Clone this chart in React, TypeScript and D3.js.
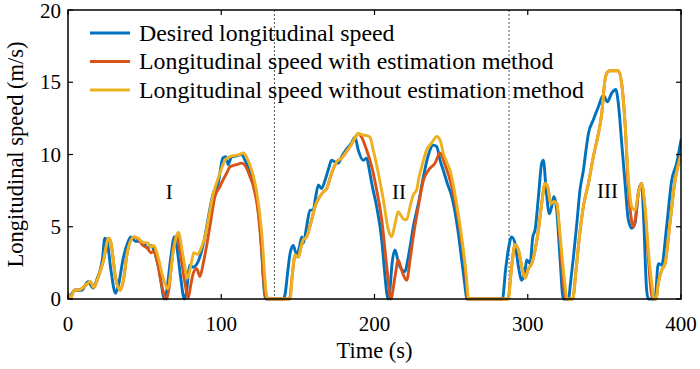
import React, { useEffect, useRef } from 'react';
import * as d3 from 'd3';

type Pt = [number, number];

// time (s), speed (m/s)
const desiredSpeed: Pt[] = [
  [0, 0.2], [2, 0.3], [4.5, 0.62], [9, 0.6], [11, 0.9], [13, 1.2], [16.5, 0.76], [19, 1.4], [21, 2.0],
  [22.5, 2.8], [24, 4.2], [25.5, 4.0], [28, 2.0], [31, 0.4], [33, 1.0], [36, 2.8], [39, 3.9], [41, 4.3],
  [44, 4.0], [47, 4.0], [50, 3.8], [52, 3.5], [54, 3.7], [56, 3.4], [59.5, 2.0], [63, 0], [64, 0.3],
  [67, 2.8], [69.4, 4.3], [71, 3.6], [73.5, 1.5], [75.9, 0], [77, 0.3], [79.6, 2.35], [81.6, 2.2],
  [84, 2.4], [86, 2.9], [88.5, 3.9], [90.5, 5.0], [92.5, 6.2], [94.7, 7.3], [98, 8.0], [101, 9.75],
  [103, 9.85], [104.5, 9.3], [106.8, 9.85], [110, 9.9], [113, 10.0], [116, 9.5], [118.8, 8.7], [122, 7.8],
  [125.3, 5.0], [128.5, 0.2], [129.5, 0], [140.5, 0], [141.6, 0.3], [143.5, 2.0], [145, 3.2], [147, 3.7],
  [149.2, 3.05], [151, 3.6], [152.5, 4.3], [153.5, 3.85], [155.7, 5.0], [157.9, 6.15], [160, 6.15],
  [161.5, 7.0], [163.4, 7.9], [165.5, 7.65], [167.7, 8.2], [170, 9.0], [172, 9.6], [174, 9.5], [176.4, 9.4],
  [178.6, 9.85], [182, 10.4], [185, 10.8], [187.3, 11.2], [189.4, 10.3], [192.7, 9.6], [194.9, 9.75],
  [196.5, 9.0], [198.2, 8.0], [201.4, 6.4], [204.7, 4.1], [206.5, 2.0], [208, 0.4], [209, 0], [210, 0.6],
  [211.5, 2.5], [213.4, 3.4], [215, 2.8], [216.6, 2.25], [219.9, 1.9], [221.5, 2.6], [223.2, 3.6],
  [225.3, 5.0], [228.6, 6.6], [231.9, 8.45], [235.1, 9.95], [238.4, 10.65], [240.6, 10.55], [242.8, 9.6],
  [244.9, 8.9], [247.5, 8.0], [250.4, 7.1], [254.7, 4.55], [257, 2.6], [259.1, 0.85], [260.2, 0],
  [283.5, 0], [285.5, 2.0], [287.3, 3.4], [289.5, 4.3], [291.7, 3.85], [293.9, 2.25], [296.1, 1.3],
  [298.3, 2.0], [299.3, 2.7], [301.5, 2.45], [303.3, 4.3], [304.8, 4.8], [307, 7.1], [309.1, 9.4],
  [310.2, 9.6], [312, 7.55], [314.1, 5.9], [315.6, 6.4], [317.1, 7.1], [318.9, 6.15], [321, 2.9],
  [323.2, 0], [326.5, 0], [328, 1.2], [329.8, 2.9], [332, 5.2], [334.1, 7.55], [336.3, 8.9], [338, 10.3],
  [339.6, 11.45], [342.8, 12.4], [346.1, 13.3], [349.3, 14.1], [351.9, 13.65], [354.8, 14.25],
  [357.4, 14.5], [359.1, 13.55], [361.3, 10.8], [363.5, 8.0], [365.6, 5.5], [367.8, 4.9], [370, 5.25],
  [372.1, 7.3], [374.3, 8.0], [375.4, 6.15], [377.6, 0.6], [378.7, 0], [383, 0], [385.2, 2.45],
  [387.4, 2.35], [390.6, 5.0], [393.9, 8.2], [397.2, 9.4], [400, 11.0],
];

const withEstimation: Pt[] = [
  [0, 0.3], [1.5, 0.05], [4, 0.6], [8, 0.65], [12, 1.0], [14.5, 1.2], [17, 0.8], [19, 1.3], [23, 2.6],
  [26.5, 4.2], [28, 3.9], [31, 1.5], [34, 0.6], [36, 1.2], [39, 3.4], [43, 4.3], [46, 4.1], [49, 3.7],
  [52, 3.5], [54, 3.2], [56, 3.3], [58, 2.7], [61, 1.0], [64.4, 0], [66, 0.8], [68.5, 3.3], [71, 4.4],
  [73, 3.4], [76, 1.3], [78.5, 0.1], [80, 0.9], [81.8, 1.8], [84, 2.1], [86.1, 1.55], [88.3, 2.5],
  [90.5, 3.7], [92.7, 5.1], [95.9, 7.1], [99.2, 7.8], [101, 8.2], [103.5, 8.7], [105.7, 9.15], [110, 9.3],
  [113.3, 9.4], [116.6, 9.05], [119, 8.4], [121, 7.8], [124.2, 5.9], [126.5, 3.2], [128.5, 0.4], [130, 0],
  [144.5, 0], [146.5, 1.8], [148.1, 3.0], [150.3, 2.9], [152, 3.6], [153.5, 4.1], [155.7, 4.3], [159, 5.5],
  [161.5, 6.5], [164.4, 7.1], [166.5, 7.4], [168.8, 7.65], [172, 8.7], [175.3, 9.5], [178.6, 9.75],
  [181, 10.1], [184, 10.55], [187, 11.1], [189.4, 11.45], [191.6, 11.2], [194.9, 10.3], [198.2, 9.15],
  [201.4, 7.55], [204.7, 5.5], [208, 2.25], [210.6, 0], [213.4, 1.55], [215.5, 2.7], [217.7, 2.0],
  [221, 1.3], [223.2, 2.7], [225.3, 4.3], [228.6, 6.4], [231.9, 8.2], [235.1, 8.9], [239.5, 9.4],
  [242.8, 10.1], [246, 9.3], [250.4, 7.8], [254.7, 5.5], [259, 2.25], [261.2, 0], [287, 0],
  [289.5, 2.25], [291.7, 3.75], [293.9, 3.4], [296.1, 2.25], [298.3, 1.45], [300.4, 2.1], [302.6, 2.45],
  [304.8, 3.4], [307, 4.8], [309.1, 6.6], [311.3, 8.0], [312.9, 7.8], [315, 6.6], [317.1, 6.75],
  [318.9, 6.6], [321, 4.2], [323.3, 1.0], [325, 0], [329.3, 0], [331.5, 2.0], [333.7, 4.3], [336.3, 6.4],
  [339.6, 8.0], [342.8, 9.85], [346.1, 11.45], [348.3, 12.85], [350.4, 15.15], [352, 15.7], [353.7, 15.8],
  [359.1, 15.8], [361.3, 14.9], [363.5, 12.15], [365.6, 7.8], [367.8, 5.4], [369, 5.0], [371, 6.2],
  [372.1, 7.3], [374.3, 8.0], [376.5, 6.2], [378.7, 2.8], [380.5, 0.5], [381.5, 0], [383.7, 0],
  [385.2, 1.1], [387.4, 2.0], [389.6, 2.45], [392.8, 5.25], [396.1, 8.2], [400, 10.0],
];

const withoutEstimation: Pt[] = [
  [0, 0.4], [1.5, 0.05], [4, 0.6], [8, 0.65], [12, 1.0], [14.5, 1.2], [17, 0.8], [19, 1.3], [23, 2.6],
  [26.5, 4.2], [28, 3.9], [31, 1.5], [34, 0.6], [36, 1.2], [39, 3.4], [43, 4.3], [46, 4.2], [49, 3.9],
  [52, 3.9], [54, 3.6], [56, 3.7], [58, 3.2], [62, 1.5], [65, 0.7], [69, 3.5], [72, 4.6], [75, 3.0],
  [78, 1.45], [80.5, 2.5], [82, 3.2], [84.5, 3.1], [87.2, 3.6], [89.4, 4.3], [91.6, 5.5], [94.8, 7.3],
  [98, 8.35], [102.5, 9.6], [105.7, 9.85], [112, 10.0], [114.4, 10.1], [117, 9.7], [119.9, 8.9],
  [123, 7.5], [126.4, 4.6], [129.7, 0.2], [131, 0], [144.9, 0], [146.5, 1.8], [148.1, 3.05],
  [150.3, 2.9], [152, 3.6], [153.5, 4.1], [155.7, 4.3], [159, 5.5], [161.5, 6.5], [164.4, 7.1],
  [166.5, 7.4], [168.8, 7.65], [172, 8.7], [175.3, 9.5], [178.6, 9.75], [181, 10.1], [184, 10.55],
  [187, 11.1], [189.4, 11.45], [192.7, 11.35], [195, 11.3], [197, 11.2], [199.2, 10.3], [202.5, 8.7],
  [205.8, 6.85], [209, 4.8], [211.2, 4.3], [213.4, 5.2], [215.5, 6.05], [217.7, 5.7], [219.5, 5.5],
  [221, 5.5], [223.2, 6.4], [225.3, 7.2], [227.5, 7.55], [229, 8.4], [230.8, 9.15], [234, 10.3],
  [237.3, 10.8], [240.6, 11.25], [242.8, 11.0], [244.9, 10.1], [247, 9.5], [249.3, 8.9], [253.6, 6.6],
  [258, 3.4], [260, 1.5], [261.2, 0.05], [262, 0], [287.3, 0], [289.5, 2.25], [291.7, 3.75],
  [293.9, 3.4], [296.1, 2.25], [298.3, 1.45], [300.4, 2.1], [302.6, 2.45], [304.8, 3.4], [307, 4.8],
  [309.1, 6.6], [311.3, 8.0], [312.9, 7.8], [315, 6.6], [317.1, 6.75], [318.9, 6.6], [321, 4.55],
  [323.7, 1.55], [325.8, 0], [329.3, 0], [331.5, 2.0], [333.7, 4.3], [336.3, 6.4], [339.6, 8.0],
  [342.8, 9.85], [346.1, 11.45], [348.3, 12.85], [350.4, 15.15], [352, 15.7], [353.7, 15.8],
  [359.1, 15.8], [361.3, 14.9], [363.5, 12.15], [365.6, 8.45], [367.8, 6.4], [370, 6.15], [372.1, 7.3],
  [374.3, 8.0], [376.5, 6.4], [378.7, 3.4], [380.9, 1.1], [382.4, 0], [383.7, 0], [385.2, 1.1],
  [387.4, 2.0], [389.6, 2.45], [392.8, 5.25], [396.1, 8.2], [400, 10.0],
];

const SERIES = [
  { name: 'Desired longitudinal speed', color: '#0072BD', data: desiredSpeed },
  { name: 'Longitudinal speed with estimation method', color: '#D95319', data: withEstimation },
  { name: 'Longitudinal speed without estimation method', color: '#EDB120', data: withoutEstimation },
];

const TIME_TICKS = [0, 100, 200, 300, 400];
const SPEED_TICKS = [0, 5, 10, 15, 20];
const PHASE_BOUNDS = [134.7, 287.8];
const PHASE_LABELS: { label: string; t: number; v: number }[] = [
  { label: 'I', t: 66, v: 6.9 },
  { label: 'II', t: 216, v: 6.9 },
  { label: 'III', t: 352, v: 7.0 },
];

const W = 700;
const H = 369;
const PLOT = { left: 68, right: 681, top: 10, bottom: 299 };
const FONT = '"Liberation Serif", "Times New Roman", serif';

const App: React.FC = () => {
  const svgRef = useRef<SVGSVGElement>(null);

  useEffect(() => {
    if (!svgRef.current) return;
    const svg = d3.select(svgRef.current);
    svg.selectAll('*').remove();

    const x = d3.scaleLinear().domain([0, 400]).range([PLOT.left, PLOT.right]);
    const y = d3.scaleLinear().domain([0, 20]).range([PLOT.bottom, PLOT.top]);
    const tickLen = 5;

    svg.append('defs').append('clipPath').attr('id', 'plot-clip')
      .append('rect')
      .attr('x', PLOT.left).attr('y', PLOT.top - 2)
      .attr('width', PLOT.right - PLOT.left).attr('height', PLOT.bottom - PLOT.top + 4);

    // phase separators
    PHASE_BOUNDS.forEach(t => {
      svg.append('line')
        .attr('x1', x(t)).attr('x2', x(t))
        .attr('y1', PLOT.top).attr('y2', PLOT.bottom)
        .attr('stroke', '#555').attr('stroke-width', 1)
        .attr('stroke-dasharray', '2,2');
    });

    const line = d3.line<Pt>()
      .x(d => x(d[0]))
      .y(d => y(d[1]))
      .curve(d3.curveMonotoneX);

    const lines = svg.append('g').attr('clip-path', 'url(#plot-clip)');
    SERIES.forEach(s => {
      lines.append('path')
        .attr('d', line(s.data) || '')
        .attr('fill', 'none')
        .attr('stroke', s.color)
        .attr('stroke-width', 2.9)
        .attr('stroke-linejoin', 'round')
        .attr('stroke-linecap', 'round');
    });

    // box
    svg.append('rect')
      .attr('x', PLOT.left).attr('y', PLOT.top)
      .attr('width', PLOT.right - PLOT.left).attr('height', PLOT.bottom - PLOT.top)
      .attr('fill', 'none').attr('stroke', '#000').attr('stroke-width', 1.5);

    // inward ticks on all sides
    TIME_TICKS.forEach(t => {
      svg.append('line').attr('x1', x(t)).attr('x2', x(t))
        .attr('y1', PLOT.bottom).attr('y2', PLOT.bottom - tickLen)
        .attr('stroke', '#000').attr('stroke-width', 1.2);
      svg.append('line').attr('x1', x(t)).attr('x2', x(t))
        .attr('y1', PLOT.top).attr('y2', PLOT.top + tickLen)
        .attr('stroke', '#000').attr('stroke-width', 1.2);
      svg.append('text')
        .attr('x', x(t)).attr('y', 331)
        .attr('text-anchor', 'middle')
        .attr('font-family', FONT).attr('font-size', 21)
        .text(t);
    });
    SPEED_TICKS.forEach(v => {
      svg.append('line').attr('x1', PLOT.left).attr('x2', PLOT.left + tickLen)
        .attr('y1', y(v)).attr('y2', y(v))
        .attr('stroke', '#000').attr('stroke-width', 1.2);
      svg.append('line').attr('x1', PLOT.right).attr('x2', PLOT.right - tickLen)
        .attr('y1', y(v)).attr('y2', y(v))
        .attr('stroke', '#000').attr('stroke-width', 1.2);
      svg.append('text')
        .attr('x', PLOT.left - 7).attr('y', Math.max(y(v) + 7, 18))
        .attr('text-anchor', 'end')
        .attr('font-family', FONT).attr('font-size', 21)
        .text(v);
    });

    // axis titles
    svg.append('text')
      .attr('x', (PLOT.left + PLOT.right) / 2).attr('y', 358)
      .attr('text-anchor', 'middle')
      .attr('font-family', FONT).attr('font-size', 22.5)
      .text('Time (s)');
    svg.append('text')
      .attr('transform', `translate(23, ${(PLOT.top + PLOT.bottom) / 2}) rotate(-90)`)
      .attr('text-anchor', 'middle')
      .attr('font-family', FONT).attr('font-size', 22.5)
      .text('Longitudinal speed (m/s)');

    // phase labels
    PHASE_LABELS.forEach(p => {
      svg.append('text')
        .attr('x', x(p.t)).attr('y', y(p.v))
        .attr('text-anchor', 'middle')
        .attr('font-family', FONT).attr('font-size', 21)
        .text(p.label);
    });

    // legend (text slightly wide in the original)
    SERIES.forEach((s, i) => {
      const ly = 33 + i * 28.5;
      svg.append('line')
        .attr('x1', 90).attr('x2', 130)
        .attr('y1', ly).attr('y2', ly)
        .attr('stroke', s.color).attr('stroke-width', 2.9);
      svg.append('text')
        .attr('transform', `translate(139, ${ly + 7.5}) scale(1.06, 1)`)
        .attr('font-family', FONT).attr('font-size', 22.5)
        .text(s.name);
    });
  }, []);

  return (
    <svg
      ref={svgRef}
      width={W}
      height={H}
      style={{ position: 'absolute', left: 0, top: 0, background: '#fff' }}
    />
  );
};

export default App;
